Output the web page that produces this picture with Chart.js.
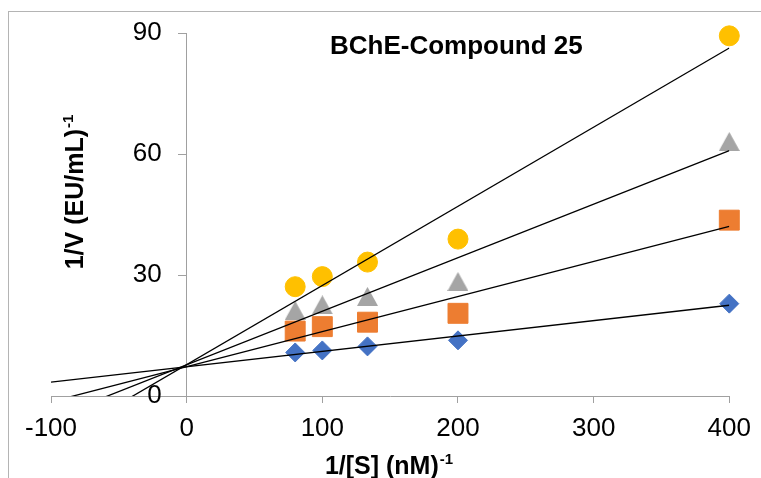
<!DOCTYPE html>
<html>
<head>
<meta charset="utf-8">
<script src="https://cdn.jsdelivr.net/npm/chart.js@4.4.1/dist/chart.umd.min.js"></script>
<style>
html,body{margin:0;padding:0;background:#fff;}
#wrap{position:relative;width:761px;height:478px;}
</style>
</head>
<body>
<div id="wrap"><canvas id="c" width="761" height="478"></canvas></div>
<script>
// ---- data ----
const invS = [80, 100, 133.3, 200, 400];          // 1/[S] (nM)^-1
const seriesA = [10.8, 11.3, 12.3, 13.8, 22.9];    // blue diamonds
const seriesB = [16.1, 17.2, 18.3, 20.5, 43.6];    // orange squares
const seriesC = [21.2, 22.6, 24.7, 28.4, 63.1];    // grey triangles
const seriesD = [27.1, 29.6, 33.2, 38.9, 89.3];    // yellow circles
const seriesNames = ['Series 1', 'Series 2', 'Series 3', 'Series 4'];
const xTicks = [-100, 0, 100, 200, 300, 400];
const yTicks = [0, 30, 60, 90];
const trendFrom = -100, trendTo = 400;
const chartTitle = 'BChE-Compound 25';
const xTitle = ['1/[S] (nM)', '-1'];
const yTitle = ['1/V (EU/mL)', '-1'];

const FONT = '"Liberation Sans", Arial, sans-serif';
const AXIS_GREY = '#a0a0a0';

function linFit(xs, ys) {
  const n = xs.length;
  const mx = xs.reduce((a, b) => a + b, 0) / n;
  const my = ys.reduce((a, b) => a + b, 0) / n;
  let sxy = 0, sxx = 0;
  for (let i = 0; i < n; i++) { sxy += (xs[i] - mx) * (ys[i] - my); sxx += (xs[i] - mx) ** 2; }
  const m = sxy / sxx;
  return { m, b: my - m * mx };
}
function trend(ys, name) {
  const f = linFit(invS, ys);
  return {
    type: 'line', label: name + ' trend', order: 0,
    data: [trendFrom, trendTo].map(x => ({ x, y: f.m * x + f.b })),
    borderColor: '#000', borderWidth: 1.3, pointRadius: 0, fill: false, tension: 0
  };
}
function triangleImg(w, h, color) {
  const c = document.createElement('canvas');
  c.width = w; c.height = h;
  const g = c.getContext('2d');
  g.fillStyle = color;
  g.beginPath(); g.moveTo(w / 2, 0); g.lineTo(w, h); g.lineTo(0, h); g.closePath(); g.fill();
  return c;
}
function pts(ys) { return invS.map((x, i) => ({ x, y: ys[i] })); }
function scatter(ys, name, style, radius, color) {
  return {
    type: 'scatter', label: name, order: 1, clip: false,
    data: pts(ys), pointStyle: style, pointRadius: radius, pointHoverRadius: radius,
    backgroundColor: color, borderColor: color, borderWidth: 1
  };
}

const titlesPlugin = {
  id: 'titles',
  afterDraw(chart) {
    const ctx = chart.ctx;
    ctx.save();
    // outer frame
    ctx.strokeStyle = '#b4b4b4'; ctx.lineWidth = 1;
    ctx.strokeRect(8.5, 11.5, 900, 900);
    ctx.fillStyle = '#000';
    ctx.textBaseline = 'alphabetic';
    // chart title
    ctx.font = 'bold 26px ' + FONT;
    ctx.textAlign = 'left';
    ctx.fillText(chartTitle, 330, 54);
    // helper: main text + superscript, centred at cx
    function supText(parts, cx, baseY) {
      ctx.font = 'bold 25px ' + FONT;
      const w1 = ctx.measureText(parts[0]).width;
      ctx.font = 'bold 15px ' + FONT;
      const w2 = ctx.measureText(parts[1]).width;
      const x0 = cx - (w1 + w2 + 1) / 2;
      ctx.font = 'bold 25px ' + FONT;
      ctx.fillText(parts[0], x0, baseY);
      ctx.font = 'bold 15px ' + FONT;
      ctx.fillText(parts[1], x0 + w1 + 1, baseY - 10);
    }
    supText(xTitle, 389, 474);
    ctx.translate(83, 192);
    ctx.rotate(-Math.PI / 2);
    supText(yTitle, 0, 0);
    ctx.restore();
  }
};

const tickFont = { family: FONT, size: 26 };
const Y_LABEL_SHIFT = 25;

new Chart(document.getElementById('c'), {
  data: {
    datasets: [
      trend(seriesA, seriesNames[0]),
      trend(seriesB, seriesNames[1]),
      trend(seriesC, seriesNames[2]),
      trend(seriesD, seriesNames[3]),
      scatter(seriesA, seriesNames[0], 'rectRot', 9.5, '#4472C4'),
      scatter(seriesB, seriesNames[1], 'rect', 14.1, '#ED7D31'),
      scatter(seriesC, seriesNames[2], triangleImg(21, 19, '#A5A5A5'), 10, '#A5A5A5'),
      scatter(seriesD, seriesNames[3], 'circle', 10, '#FFC000')
    ]
  },
  options: {
    responsive: false,
    animation: false,
    events: [],
    layout: { padding: { left: 51, right: 31, top: 33, bottom: 0 } },
    plugins: { legend: { display: false }, tooltip: { enabled: false }, title: { display: false } },
    scales: {
      x: {
        type: 'linear', position: 'bottom',
        min: xTicks[0], max: xTicks[xTicks.length - 1],
        afterBuildTicks(s) { s.ticks = xTicks.map(v => ({ value: v })); },
        afterFit(s) { s.height = 82; },
        ticks: { font: tickFont, color: '#000', padding: 10, maxRotation: 0, autoSkip: false },
        grid: { drawOnChartArea: false, tickLength: 7, color: AXIS_GREY },
        border: { color: AXIS_GREY, width: 1 }
      },
      y: {
        type: 'linear', position: { x: 0 },
        min: yTicks[0], max: yTicks[yTicks.length - 1],
        afterBuildTicks(s) { s.ticks = yTicks.map(v => ({ value: v })); },
        afterUpdate(s) {
          // axis crosses at x = 0: place labels left of the tick marks
          if (!s._origLabelItems) {
            s._origLabelItems = s._computeLabelItems;
            s._computeLabelItems = function (ca) {
              const items = s._origLabelItems.call(s, ca);
              items.forEach(it => { it.options.translation[0] -= Y_LABEL_SHIFT; });
              return items;
            };
          }
        },
        ticks: { font: tickFont, color: '#000', padding: 14, autoSkip: false },
        grid: { drawOnChartArea: false, tickLength: 8, color: AXIS_GREY },
        border: { color: AXIS_GREY, width: 1 }
      }
    }
  },
  plugins: [titlesPlugin]
});
</script>
</body>
</html>
